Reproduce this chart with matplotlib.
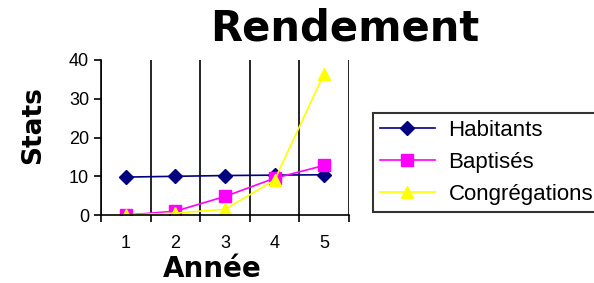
import matplotlib
matplotlib.use('Agg')
import matplotlib.pyplot as plt

annees = [1, 2, 3, 4, 5]
habitants = [9.8, 10.0, 10.2, 10.3, 10.4]
baptises = [0.0, 1.0, 4.8, 9.5, 12.8]
congregations = [0.0, 0.5, 1.5, 9.0, 36.5]

plt.rcParams['font.family'] = ['Liberation Sans', 'DejaVu Sans']

fig = plt.figure(figsize=(5.94, 2.83), dpi=100)
ax = fig.add_axes([0.170, 0.240, 0.4175, 0.548])

ax.plot(annees, habitants, color='#000080', marker='D', markersize=7, linewidth=1.2, label='Habitants')
ax.plot(annees, baptises, color='#ff00ff', marker='s', markersize=8, linewidth=1.2, label='Baptisés')
ax.plot(annees, congregations, color='#ffff00', marker='^', markersize=9, linewidth=1.2, label='Congrégations')

ax.set_xlim(0.5, 5.5)
ax.set_ylim(0, 40)
ax.set_yticks([0, 10, 20, 30, 40])
ax.set_xticks([0.5, 1.5, 2.5, 3.5, 4.5, 5.5])
ax.set_xticklabels([])
ax.set_xticks(annees, minor=True)
ax.set_xticklabels([str(a) for a in annees], minor=True, fontsize=13)
ax.tick_params(axis='x', which='minor', length=0, pad=14)
ax.tick_params(axis='x', which='major', length=5, width=1.2, direction='out')
ax.tick_params(axis='y', length=5, width=1.2, direction='out', labelsize=13)
ax.xaxis.grid(True, which='major', color='black', linewidth=1.2)

for s in ['top', 'right']:
    ax.spines[s].set_visible(False)
ax.spines['left'].set_linewidth(1.2)
ax.spines['bottom'].set_linewidth(1.2)

ax.set_xlabel('Année', fontsize=20, fontweight='bold', family='DejaVu Sans')
ax.set_ylabel('Stats', fontsize=19, fontweight='bold', family='DejaVu Sans')
ax.xaxis.set_label_coords(0.45, -0.26)
ax.yaxis.set_label_coords(-0.22, 0.58)
fig.text(0.58, 0.90, 'Rendement', fontsize=30, fontweight='bold', family='DejaVu Sans',
         ha='center', va='center')

leg = fig.legend(loc='upper left', bbox_to_anchor=(0.628, 0.60), fontsize=16,
                 frameon=True, fancybox=False, edgecolor='black', borderpad=0.3,
                 borderaxespad=0, handlelength=2.5, handletextpad=0.6, labelspacing=0.5)
leg.get_frame().set_linewidth(1.5)

fig.savefig('out.png', dpi=100)
